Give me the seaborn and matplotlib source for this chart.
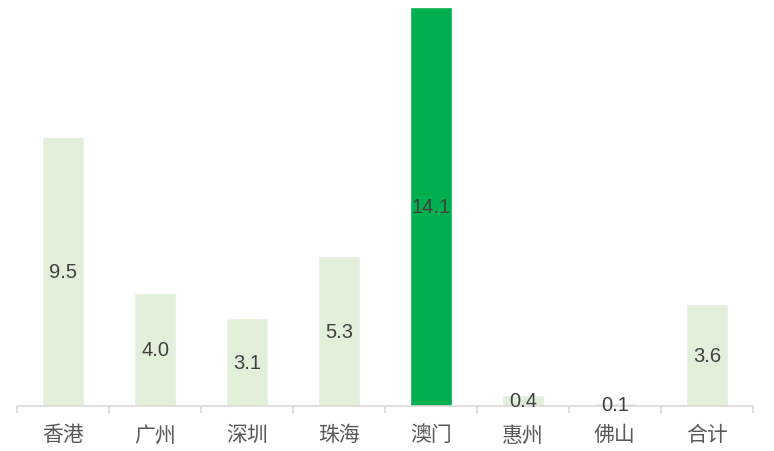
import matplotlib
matplotlib.use("Agg")
import matplotlib.pyplot as plt
import seaborn as sns
import pandas as pd

categories = ["香港", "广州", "深圳", "珠海", "澳门", "惠州", "佛山", "合计"]
values = [9.5, 4.0, 3.1, 5.3, 14.1, 0.4, 0.1, 3.6]
bar_colors = ["#E2EFD9", "#E2EFD9", "#E2EFD9", "#E2EFD9", "#00B050", "#E2EFD9", "#E2EFD9", "#E2EFD9"]

sns.set_theme(style="white")
plt.rcParams['font.family'] = ['Noto Sans CJK SC', 'DejaVu Sans']

df = pd.DataFrame({"cat": categories, "val": values})

fig = plt.figure(figsize=(7.74, 4.52), dpi=100)
ax = fig.add_axes([17/774, 45/452, 736/774, 399/452])
sns.barplot(data=df, x="cat", y="val", hue="cat", palette=bar_colors,
            width=0.46, legend=False, ax=ax, saturation=1)

ax.set_xlim(-0.5, len(categories) - 0.5)
ax.set_ylim(0, 14.1)
for s in ["top", "right", "left"]:
    ax.spines[s].set_visible(False)
ax.spines["bottom"].set_color("#D9D9D9")
ax.spines["bottom"].set_linewidth(1.2)
ax.set_yticks([])
ax.set_xlabel("")
ax.set_ylabel("")

ax.tick_params(axis="x", which="major", length=0, pad=12.5, labelsize=15, labelcolor="#595959")
ax.set_xticks(range(len(categories)))
ax.set_xticklabels(categories)
ax.set_xticks([i - 0.5 for i in range(len(categories) + 1)], minor=True)
ax.tick_params(axis="x", which="minor", length=5, width=1.2, color="#D9D9D9", direction="out", bottom=True)

for i, v in enumerate(values):
    ax.text(i, v / 2, f"{v:.1f}", ha="center", va="center", fontsize=14.5,
            color="#404040", family=["Liberation Sans", "DejaVu Sans"])

fig.savefig("out.png", dpi=100)
